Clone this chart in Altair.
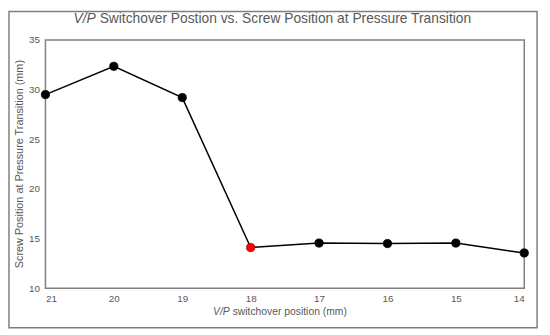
import altair as alt
import pandas as pd

switchover = [21, 20, 19, 18, 17, 16, 15, 14]
screw_pos = [29.5, 32.35, 29.2, 14.1, 14.55, 14.5, 14.55, 13.55]
highlight = [False, False, False, True, False, False, False, False]

df = pd.DataFrame({"x": switchover, "y": screw_pos, "hl": highlight})

FONT = "Liberation Sans"
GRAY = "#595959"
W, H = 486, 252
L, T = 38, 30  # padding -> plot origin at (46, 38) on page

xs = alt.X("x:Q", scale=alt.Scale(domain=[14, 21], reverse=True, nice=False, zero=False),
           axis=alt.Axis(values=switchover, format="d", title=None, ticks=False, grid=False,
                         labelPadding=5, labelFontSize=10, labelColor=GRAY, domain=False))
ys = alt.Y("y:Q", scale=alt.Scale(domain=[10, 35], nice=False, zero=False),
           axis=alt.Axis(values=[10, 15, 20, 25, 30, 35], title=None, ticks=False, grid=False,
                         labelPadding=6, labelFontSize=10, labelColor=GRAY, domain=False))

base = alt.Chart(df)
line = base.mark_line(color="black", strokeWidth=1.5).encode(x=xs, y=ys)
pts = base.mark_circle(size=70, opacity=1).encode(
    x=xs, y=ys,
    color=alt.condition("datum.hl", alt.value("#ff0000"), alt.value("black")),
    stroke=alt.condition("datum.hl", alt.value("#a00000"), alt.value("black")),
    strokeWidth=alt.value(0.8),
)

one = alt.Data(values=[{"a": 1}])
def txt(s, x, y, align, size, italic=False, angle=0):
    kw = dict(text=s, align=align, baseline="middle", fontSize=size, font=FONT, color=GRAY,
              fontStyle="italic" if italic else "normal")
    if angle:
        kw["angle"] = angle
    return alt.Chart(one).mark_text(**kw).encode(x=alt.value(x - 46), y=alt.value(y - 38))

title_y = 16.5
t1 = txt("V/P", 97, title_y, "right", 14, italic=True)
t2 = txt("Switchover Postion vs. Screw Position at Pressure Transition", 101, title_y, "left", 14)
xt1 = txt("V/P", 233, 314, "right", 10.5, italic=True)
xt2 = txt("switchover position (mm)", 236, 314, "left", 10.5)
yt = txt("Screw Position at Pressure Transition (mm)", 20, 38 + H / 2, "center", 11, angle=270)

frame = alt.Chart(one).mark_rect(fill=None, stroke="#7f7f7f", strokeWidth=1.5).encode(
    x=alt.value(9 - 46), x2=alt.value(545 - 46), y=alt.value(9 - 38), y2=alt.value(330 - 38))

chart = alt.layer(line, pts, t1, t2, xt1, xt2, yt, frame).properties(
    width=W, height=H,
    autosize=alt.AutoSizeParams(type="none"),
    padding={"left": L, "top": T, "right": 18, "bottom": 45},
    background="white",
).configure_view(stroke="#808080", strokeWidth=1.5).configure_axis(labelFont=FONT)

chart.save("out.html", embed_options={"renderer": "svg", "actions": False})
